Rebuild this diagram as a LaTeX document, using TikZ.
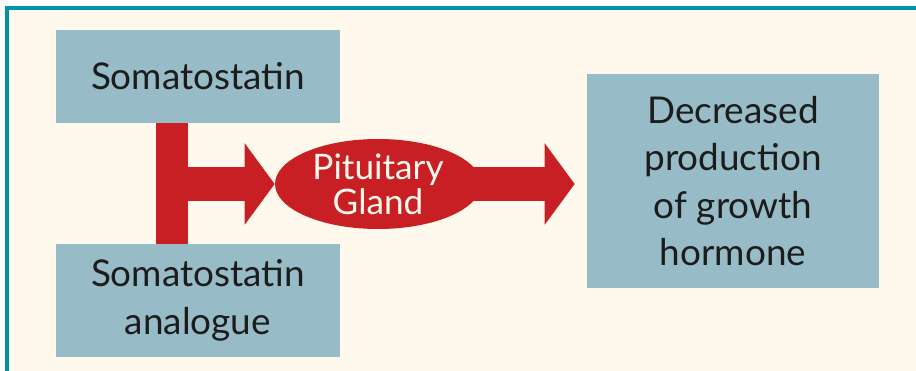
\documentclass[tikz,border=0pt]{standalone}
\usepackage{fontspec}
\setmainfont{Lato}
\usetikzlibrary{positioning,shapes.geometric,arrows.meta}
\definecolor{FrameTeal}{RGB}{0,147,168}
\definecolor{PaperCream}{RGB}{254,249,236}
\definecolor{BoxBlue}{RGB}{151,188,199}
\definecolor{HormRed}{RGB}{200,31,36}
\definecolor{InkBlack}{RGB}{28,28,28}
\tikzset{
  box/.style={rectangle,fill=BoxBlue,draw=none,align=center,text=InkBlack,
    inner sep=0pt,font=\fontsize{21}{27}\selectfont},
  gland/.style={ellipse,fill=HormRed,draw=none,align=center,text=PaperCream,
    inner sep=0pt,minimum width=4.12cm,minimum height=1.8cm,
    font=\fontsize{20}{20}\selectfont},
  redbar/.style={draw=HormRed,line width=0.64cm},
  redarrow/.style={draw=HormRed,line width=0.68cm,
    -{Triangle[length=0.6cm,width=1.6cm]}},
}

\begin{document}
\begin{tikzpicture}[x=0.02cm,y=-0.02cm]
        \useasboundingbox (0,0) rectangle (916,371);
        % panel
        \fill[PaperCream] (9,10) rectangle (916,371);
        \draw[FrameTeal,line width=0.08cm] (7,371) -- (7,8) -- (916,8);
        % boxes
        \node[box,minimum width=5.68cm,minimum height=1.86cm] (som) at (198,76.5) {Somatostatin};
        \node[box,minimum width=5.68cm,minimum height=2.26cm] (analog) at (198,300.5) {Somatostatin\\analogue};
        \node[box,minimum width=5.84cm,minimum height=4.28cm] (result) at (733,181) {Decreased\\production\\of growth\\hormone};
        \node[gland] (pit) at (378,184) {Pituitary\\Gland};
        \coordinate (fork) at (172,184);
        % red connectors
        \draw[redbar] (som.south -| fork) -- (analog.north -| fork);
        \draw[redarrow] (fork) -- (pit.west);
        \draw[redarrow,shorten <=-0.5cm,shorten >=0.24cm] (pit.east) -- (pit.east -| result.west);
      \end{tikzpicture}
\end{document}
